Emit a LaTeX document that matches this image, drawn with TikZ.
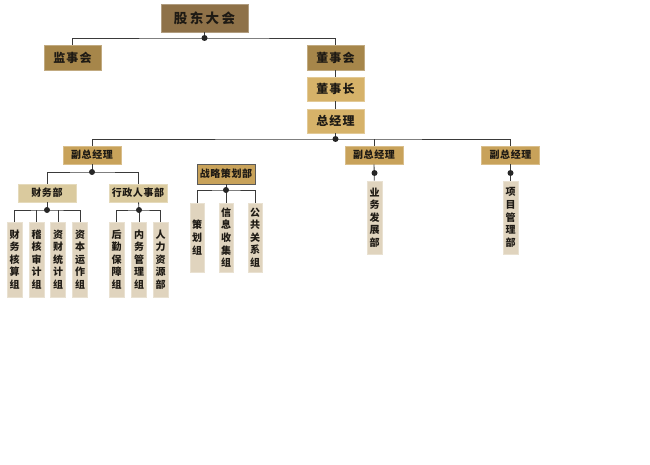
\documentclass[tikz,border=0pt]{standalone}
\usepackage{fontspec}
\newfontfamily\cjk{Noto Sans CJK SC}
\definecolor{cTop}{HTML}{8E7148}
\definecolor{cMid}{HTML}{A6864A}
\definecolor{cGm}{HTML}{D6B269}
\definecolor{cVp}{HTML}{C8A25A}
\definecolor{cDept}{HTML}{DACA9E}
\definecolor{cLeaf}{HTML}{E0D4BE}
\definecolor{cLine}{HTML}{3A3A3A}
\definecolor{cText}{HTML}{1E1A14}
\tikzset{
  base/.style={inner sep=0pt, text=cText, line width=0.6pt},
  topbox/.style={base, fill=cTop, draw=cTop!70!white, minimum width=87pt, minimum height=28pt,
    font=\cjk\bfseries\fontsize{13.5}{14}\selectfont\addfontfeature{LetterSpace=18}},
  midbox/.style={base, fill=cMid, draw=cMid!70!white, minimum width=57pt, minimum height=25pt,
    font=\cjk\bfseries\fontsize{12}{13}\selectfont\addfontfeature{LetterSpace=10}},
  gmbox/.style={base, fill=cGm, draw=cGm!70!white, minimum width=57pt, minimum height=24pt,
    font=\cjk\bfseries\fontsize{12}{13}\selectfont\addfontfeature{LetterSpace=10}},
  vpbox/.style={base, fill=cVp, draw=cVp!70!white, minimum width=58pt, minimum height=18pt,
    font=\cjk\bfseries\fontsize{10}{11}\selectfont\addfontfeature{LetterSpace=6}},
  zlbox/.style={base, fill=cVp, draw=black!65, minimum width=58pt, minimum height=20pt,
    font=\cjk\bfseries\fontsize{10}{11}\selectfont\addfontfeature{LetterSpace=6}},
  deptbox/.style={base, fill=cDept, draw=cDept!70!white, minimum width=58pt, minimum height=18pt,
    font=\cjk\bfseries\fontsize{10}{11}\selectfont\addfontfeature{LetterSpace=6}},
  leafbox/.style={base, fill=cLeaf, draw=cLeaf!70!white, minimum width=15pt, align=center,
    font=\cjk\bfseries\fontsize{10}{12.6}\selectfont},
  conn/.style={draw=cLine, line width=0.8pt},
  dotfill/.style={fill=black!85}
}
\begin{document}
\begin{tikzpicture}[x=1pt,y=-1pt]
\useasboundingbox (0,0) rectangle (650,465);
% boxes
\node[topbox] (gd) at (204.5,18) {股东大会};
\node[midbox] (js) at (72.5,57.5) {监事会};
\node[midbox] (dsh) at (335.5,57.5) {董事会};
\node[gmbox] (dsz) at (335.5,89) {董事长};
\node[gmbox] (zjl) at (335.5,121) {总经理};
\node[vpbox] (f1) at (92,155) {副总经理};
\node[vpbox] (f2) at (374,155) {副总经理};
\node[vpbox] (f3) at (510.5,155) {副总经理};
\node[deptbox] (cwb) at (47,193) {财务部};
\node[deptbox] (xzb) at (138,193) {行政人事部};
\node[zlbox] (zl) at (226,174) {战略策划部};
% leaves
\node[leafbox, minimum height=75pt] (c1) at (14.5,259.5) {财\\务\\核\\算\\组};
\node[leafbox, minimum height=75pt] (c2) at (36.5,259.5) {稽\\核\\审\\计\\组};
\node[leafbox, minimum height=75pt] (c3) at (58,259.5) {资\\财\\统\\计\\组};
\node[leafbox, minimum height=75pt] (c4) at (80,259.5) {资\\本\\运\\作\\组};
\node[leafbox, minimum height=75pt] (x1) at (116.5,259.5) {后\\勤\\保\\障\\组};
\node[leafbox, minimum height=75pt] (x2) at (139,259.5) {内\\务\\管\\理\\组};
\node[leafbox, minimum height=75pt] (x3) at (160.5,259.5) {人\\力\\资\\源\\部};
\node[leafbox, minimum height=69pt, minimum width=14pt] (z1) at (197,237.5) {策\\划\\组};
\node[leafbox, minimum height=69pt, minimum width=14pt] (z2) at (226,237.5) {信\\息\\收\\集\\组};
\node[leafbox, minimum height=69pt, minimum width=14pt] (z3) at (255,237.5) {公\\共\\关\\系\\组};
\node[leafbox, minimum height=73pt] (l1) at (374.5,217.5) {业\\务\\发\\展\\部};
\node[leafbox, minimum height=73pt] (l2) at (510.5,217.5) {项\\目\\管\\理\\部};
% junction points
\coordinate (d1) at (204.5,38);
\coordinate (d2) at (335.5,139);
\coordinate (d3) at (92,172);
\coordinate (d4) at (47,210);
\coordinate (d5) at (139,210);
\coordinate (d6) at (226,190);
\coordinate (d7) at (374.5,173);
\coordinate (d8) at (510.5,173);
% connectors
\draw[conn] (gd) -- (d1);
\draw[conn] (js.north) |- (d1) -| (dsh.north);
\draw[conn] (dsh) -- (dsz);
\draw[conn] (dsz) -- (zjl);
\draw[conn] (zjl) -- (d2);
\draw[conn] (f1.north) |- (d2) -| (f3.north);
\draw[conn] (f2.north) -- (f2.north |- d2);
\draw[conn] (f1) -- (d3);
\draw[conn] (cwb.north) |- (d3) -| (xzb.north);
\draw[conn] (cwb) -- (d4);
\draw[conn] (c1.north) |- (d4) -| (c4.north);
\draw[conn] (c2.north) -- (c2.north |- d4);
\draw[conn] (c3.north) -- (c3.north |- d4);
\draw[conn] (xzb) -- (d5);
\draw[conn] (x1.north) |- (d5) -| (x3.north);
\draw[conn] (x2.north) -- (x2.north |- d5);
\draw[conn] (zl) -- (d6);
\draw[conn] (z1.north) |- (d6) -| (z3.north);
\draw[conn] (z2.north) -- (z2.north |- d6);
\draw[conn] (f2) -- (l1);
\draw[conn] (f3) -- (l2);
% dots
\foreach \d in {d1,d2,d3,d4,d5,d6,d7,d8} \fill[dotfill] (\d) circle (3pt);
\end{tikzpicture}
\end{document}
